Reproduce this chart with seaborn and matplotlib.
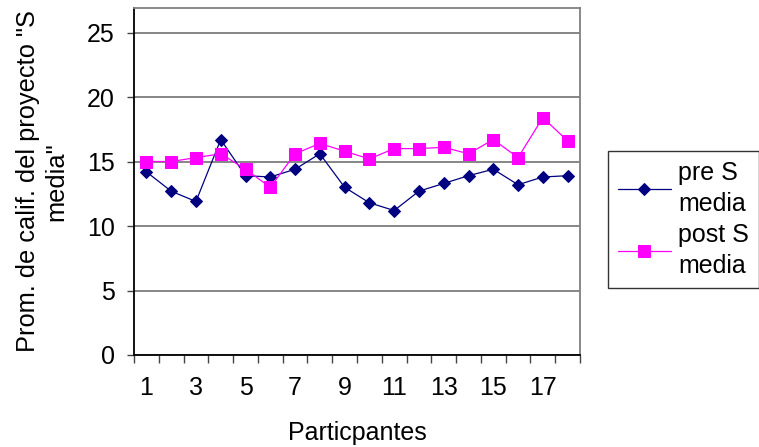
import matplotlib
matplotlib.use("Agg")
import matplotlib.pyplot as plt
import seaborn as sns
import numpy as np

participants = list(range(1, 19))
pre_s_media = [14.2, 12.7, 11.9, 16.7, 13.9, 13.8, 14.4, 15.6, 13.0,
               11.8, 11.2, 12.7, 13.3, 13.9, 14.4, 13.2, 13.8, 13.9]
post_s_media = [15.0, 15.0, 15.3, 15.6, 14.4, 13.0, 15.6, 16.4, 15.8,
                15.2, 16.0, 16.0, 16.1, 15.6, 16.7, 15.3, 18.4, 16.6]
x_tick_labels = [str(i) for i in range(1, 19, 2)]
y_ticks = [0, 5, 10, 15, 20, 25]

sns.set_style("white")
plt.rcParams['font.family'] = ['Liberation Sans', 'DejaVu Sans']
plt.rcParams['font.size'] = 18
plt.rcParams['text.color'] = 'black'
plt.rcParams['axes.labelcolor'] = 'black'
plt.rcParams['xtick.color'] = 'black'
plt.rcParams['ytick.color'] = 'black'

fig = plt.figure(figsize=(7.59, 4.47), dpi=100)
ax = fig.add_axes([134/759, 1 - 355/447, (580-134)/759, (355-8)/447])

sns.lineplot(x=participants, y=pre_s_media, ax=ax, color='#000080',
             marker='D', markersize=6.5, markeredgecolor='#000080',
             markerfacecolor='#000080', linewidth=0.9, label='pre S\nmedia')
sns.lineplot(x=participants, y=post_s_media, ax=ax, color='#FF00FF',
             marker='s', markersize=9, markeredgecolor='#FF00FF',
             markerfacecolor='#FF00FF', linewidth=0.9, label='post S\nmedia')

ax.set_xlim(0.5, 18.5)
ax.set_ylim(0, 26.9)
ax.set_yticks(y_ticks)
ax.yaxis.grid(True, color='#666666', linewidth=1.1)
ax.set_axisbelow(True)

ax.set_xticks(np.arange(0.5, 19, 1))
ax.set_xticklabels([])
ax.set_xticks(range(1, 19, 2), minor=True)
ax.set_xticklabels(x_tick_labels, minor=True)
ax.tick_params(axis='x', which='major', direction='out', length=6, width=1, color='#444444', bottom=True)
ax.tick_params(axis='x', which='minor', length=0, pad=15, labelsize=18, labelcolor='black')
ax.tick_params(axis='y', direction='out', length=5, width=1, color='#444444', left=True, pad=9, labelsize=18, labelcolor='black')

for s in ['top', 'right']:
    ax.spines[s].set_color('#808080')
    ax.spines[s].set_linewidth(1.3)
for s in ['left', 'bottom']:
    ax.spines[s].set_color('black')
    ax.spines[s].set_linewidth(1.3)

ax.set_xlabel('Particpantes', fontsize=18, labelpad=15, color='black')
ax.set_ylabel('Prom. de calif. del proyecto "S\nmedia"', fontsize=18.3,
              multialignment='center', labelpad=13, linespacing=1.25, color='black')

leg = ax.legend(loc='upper left', bbox_to_anchor=(608/759, 1 - 151/447),
                bbox_transform=fig.transFigure, frameon=True, fancybox=False,
                edgecolor='black', fontsize=18, handlelength=2.1,
                borderpad=0.4, labelspacing=0.3, handletextpad=0.3,
                borderaxespad=0)
leg.get_frame().set_linewidth(1.0)
for t in leg.get_texts():
    t.set_linespacing(1.35)
    t.set_color('black')

fig.savefig('out.png', dpi=100)
